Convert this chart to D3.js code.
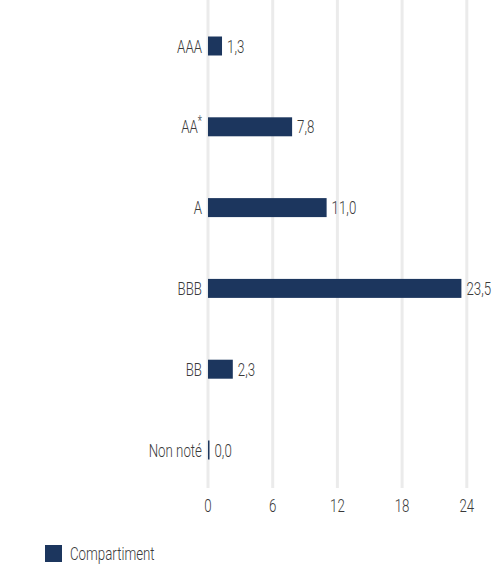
<!DOCTYPE html>
<html>
<head>
<meta charset="utf-8">
<script src="https://cdn.jsdelivr.net/npm/d3@7"></script>
<style>
  html, body { margin: 0; padding: 0; background: #fff; }
  text { font-family: Roboto, "Liberation Sans", sans-serif; font-weight: 300; fill: #3a3a3a; }
</style>
</head>
<body>
<div id="chart"></div>
<script>
const width = 494;
const height = 565;

// données
const categories = ["AAA", "AA*", "A", "BBB", "BB", "Non noté"];
const values = [1.3, 7.8, 11.0, 23.5, 2.3, 0.0];
const ticks = [0, 6, 12, 18, 24];
const seriesName = "Compartiment";

const barColor = "#1c365e";
const gridColor = "#ebebeb";
const squeeze = 0.7; // police condensée simulée
const fs = 19;

const svg = d3.select("#chart")
    .append("svg")
    .attr("width", width)
    .attr("height", height);

const x = d3.scaleLinear().domain([0, 24]).range([208, 466.8]);
const y = d3.scaleBand()
    .domain(categories)
    .range([5.6, 490.4])
    .paddingInner(0.765)
    .paddingOuter(0.3825);

// texte condensé : on écrase horizontalement autour du point d'ancrage
function label(g, tx, ty, str, anchor, size) {
    const t = g.append("text")
        .attr("transform", `translate(${tx},${ty}) scale(${squeeze},1)`)
        .attr("text-anchor", anchor)
        .style("font-size", size + "px");
    return t.text(str);
}

// 1. grille verticale
svg.append("g").selectAll("line")
    .data(ticks)
    .join("line")
    .attr("x1", d => x(d)).attr("x2", d => x(d))
    .attr("y1", 0).attr("y2", 488)
    .attr("stroke", gridColor)
    .attr("stroke-width", 3);

// 2. barres
const rows = categories.map((c, i) => ({ cat: c, v: values[i] }));

svg.append("g").selectAll("rect")
    .data(rows)
    .join("rect")
    .attr("x", x(0))
    .attr("y", d => y(d.cat))
    .attr("width", d => Math.max(x(d.v) - x(0), 1.5))
    .attr("height", y.bandwidth())
    .attr("fill", barColor);

// 3. libellés des catégories
const catG = svg.append("g");
rows.forEach(d => {
    const cy = y(d.cat) + y.bandwidth() / 2 + 6.5;
    if (d.cat === "AA*") {
        const t = catG.append("text")
            .attr("transform", `translate(${x(0) - 6},${cy}) scale(${squeeze},1)`)
            .attr("text-anchor", "end")
            .style("font-size", fs + "px");
        t.append("tspan").text("AA");
        t.append("tspan").attr("dy", -7).style("font-size", "14px").text("*");
    } else {
        label(catG, x(0) - 6, cy, d.cat, "end", fs);
    }
});

// 4. valeurs
const fmt = v => v.toFixed(1).replace(".", ",");
const valG = svg.append("g");
rows.forEach(d => {
    const cy = y(d.cat) + y.bandwidth() / 2 + 6.5;
    label(valG, Math.max(x(d.v), x(0) + 1.5) + 5, cy, fmt(d.v), "start", fs);
});

// 5. axe des x
const axG = svg.append("g");
ticks.forEach(t => label(axG, x(t), 512, t, "middle", fs));

// 6. légende
svg.append("rect")
    .attr("x", 45).attr("y", 545)
    .attr("width", 17).attr("height", 17)
    .attr("fill", barColor);
label(svg, 70, 560, seriesName, "start", fs);
</script>
</body>
</html>
